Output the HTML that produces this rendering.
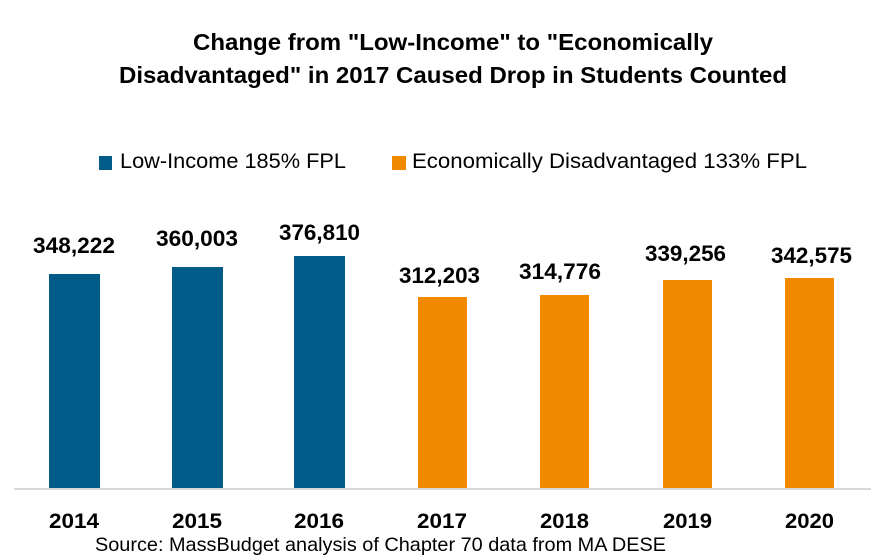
<!DOCTYPE html>
<html>
<head>
<meta charset="utf-8">
<style>
  html, body { margin: 0; padding: 0; background: #ffffff; }
  svg { display: block; }
  text { font-family: "Liberation Sans", "DejaVu Sans", sans-serif; fill: #000; }
  .b { font-weight: bold; }
</style>
</head>
<body>
<svg width="892" height="558" viewBox="0 0 892 558" xmlns="http://www.w3.org/2000/svg">
  <rect width="892" height="558" fill="#ffffff"/>

  <!-- Title -->
  <text class="b" x="193" y="50" font-size="23" textLength="520" lengthAdjust="spacingAndGlyphs">Change from "Low-Income" to "Economically</text>
  <text class="b" x="119" y="83" font-size="23" textLength="668" lengthAdjust="spacingAndGlyphs">Disadvantaged" in 2017 Caused Drop in Students Counted</text>

  <!-- Legend -->
  <rect x="99" y="156" width="13" height="14" fill="#005B88"/>
  <text x="120" y="168" font-size="21" textLength="226" lengthAdjust="spacingAndGlyphs">Low-Income 185% FPL</text>
  <rect x="392" y="156" width="14" height="14" fill="#F18A00"/>
  <text x="412" y="168" font-size="21" textLength="395" lengthAdjust="spacingAndGlyphs">Economically Disadvantaged 133% FPL</text>

  <!-- Bars -->
  <rect x="49"  y="274" width="51" height="215" fill="#005B88"/>
  <rect x="172" y="267" width="51" height="222" fill="#005B88"/>
  <rect x="294" y="256" width="51" height="233" fill="#005B88"/>
  <rect x="418" y="297" width="49" height="192" fill="#F18A00"/>
  <rect x="540" y="295" width="49" height="194" fill="#F18A00"/>
  <rect x="663" y="280" width="49" height="209" fill="#F18A00"/>
  <rect x="785" y="278" width="49" height="211" fill="#F18A00"/>

  <!-- Axis line -->
  <rect x="14" y="488" width="857" height="2" fill="#D9D9D9"/>

  <!-- Value labels -->
  <text class="b" x="33"  y="253" font-size="22" textLength="82" lengthAdjust="spacingAndGlyphs">348,222</text>
  <text class="b" x="156" y="246" font-size="22" textLength="82" lengthAdjust="spacingAndGlyphs">360,003</text>
  <text class="b" x="279" y="240" font-size="22" textLength="81" lengthAdjust="spacingAndGlyphs">376,810</text>
  <text class="b" x="399" y="283" font-size="22" textLength="81" lengthAdjust="spacingAndGlyphs">312,203</text>
  <text class="b" x="519" y="279" font-size="22" textLength="82" lengthAdjust="spacingAndGlyphs">314,776</text>
  <text class="b" x="645" y="261" font-size="22" textLength="81" lengthAdjust="spacingAndGlyphs">339,256</text>
  <text class="b" x="771" y="263" font-size="22" textLength="81" lengthAdjust="spacingAndGlyphs">342,575</text>

  <!-- Category labels -->
  <text class="b" x="49"  y="528" font-size="21" textLength="50" lengthAdjust="spacingAndGlyphs">2014</text>
  <text class="b" x="172" y="528" font-size="21" textLength="50" lengthAdjust="spacingAndGlyphs">2015</text>
  <text class="b" x="294" y="528" font-size="21" textLength="50" lengthAdjust="spacingAndGlyphs">2016</text>
  <text class="b" x="417" y="528" font-size="21" textLength="50" lengthAdjust="spacingAndGlyphs">2017</text>
  <text class="b" x="540" y="528" font-size="21" textLength="49" lengthAdjust="spacingAndGlyphs">2018</text>
  <text class="b" x="663" y="528" font-size="21" textLength="49" lengthAdjust="spacingAndGlyphs">2019</text>
  <text class="b" x="785" y="528" font-size="21" textLength="49" lengthAdjust="spacingAndGlyphs">2020</text>

  <!-- Source -->
  <text x="95" y="551" font-size="19.5" textLength="571" lengthAdjust="spacingAndGlyphs">Source: MassBudget analysis of Chapter 70 data from MA DESE</text>
</svg>
</body>
</html>
